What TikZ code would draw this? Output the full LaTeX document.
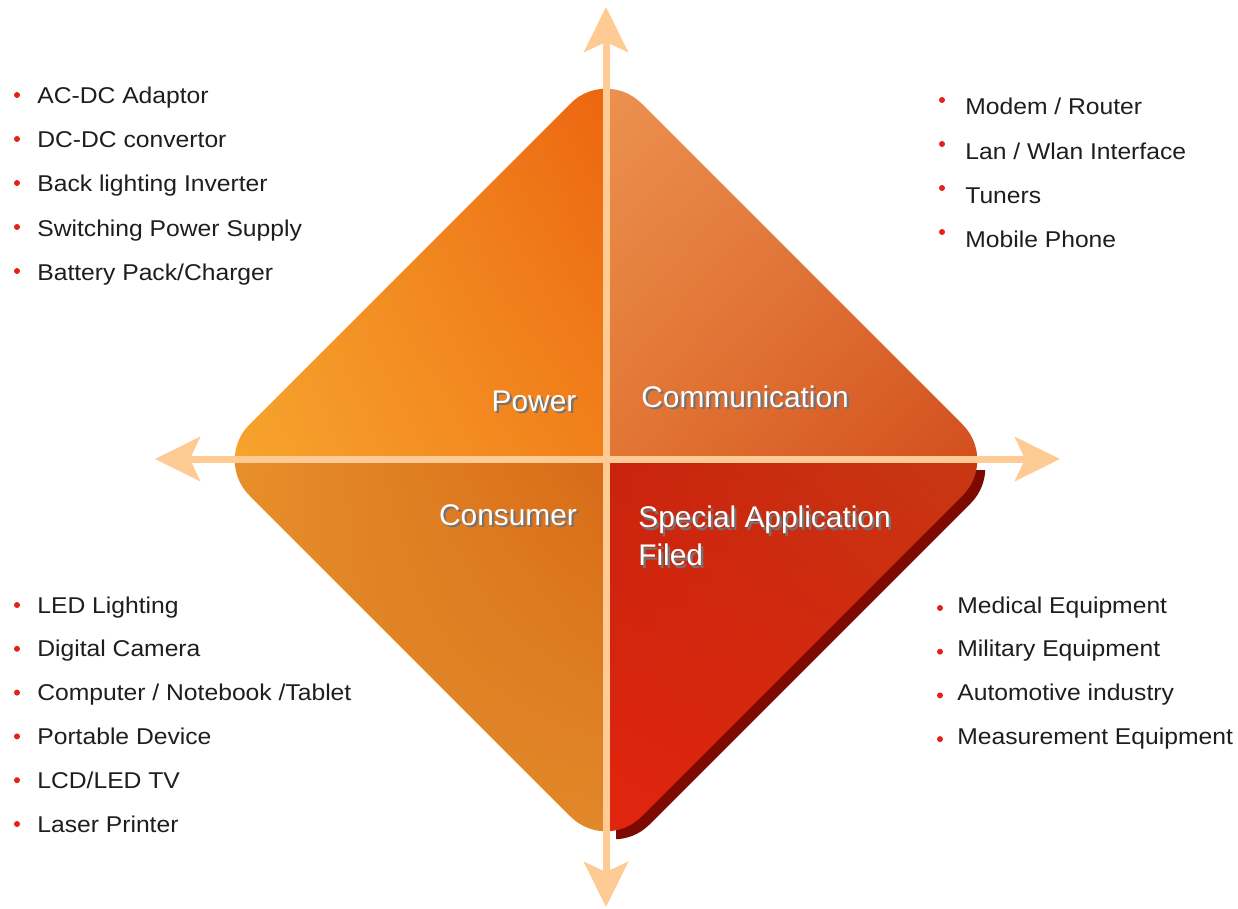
\documentclass[tikz,border=0pt]{standalone}
\usepackage{fontspec}
\setmainfont{Liberation Sans}
\newfontfamily\listfont[FakeStretch=1.08]{Liberation Sans}
\usetikzlibrary{arrows.meta,shadings}
\definecolor{axiscolor}{HTML}{FFCB94}
\definecolor{bulletred}{HTML}{E32119}
\definecolor{shadowred}{HTML}{7C0A02}
\definecolor{itemblack}{HTML}{1E1E1E}
%% quadrant colours
\definecolor{powUL}{HTML}{F29A28}\definecolor{powUR}{HTML}{EC6410}
\definecolor{powLL}{HTML}{F7A52E}\definecolor{powLR}{HTML}{F1801A}
\definecolor{comUL}{HTML}{EC9250}\definecolor{comUR}{HTML}{E07A3A}
\definecolor{comLL}{HTML}{E27634}\definecolor{comLR}{HTML}{D24C1C}
\definecolor{conUL}{HTML}{E8922C}\definecolor{conUR}{HTML}{D76A17}
\definecolor{conLL}{HTML}{E28626}\definecolor{conLR}{HTML}{E28A2A}
\definecolor{speUL}{HTML}{C9230E}\definecolor{speUR}{HTML}{C73A12}
\definecolor{speLL}{HTML}{E3260E}\definecolor{speLR}{HTML}{D41E0C}
\newcommand\quadtext[1]{\makebox[0pt][l]{\hspace{1.3pt}\raisebox{-1.3pt}[0pt][0pt]{\color{black!55}#1}}#1}
\def\diamondpath{(410,264) -- (606,68) -- (998,460) -- (606,852) -- (214,460) -- cycle}
\begin{document}
\begin{tikzpicture}
[x=0.02cm,y=-0.02cm,
  itemdecorate/.style={anchor=base west,inner sep=0pt,text=itemblack,font=\listfont\fontsize{13}{15}\selectfont},
  bulletdecorate/.style={shape=circle,fill=bulletred,inner sep=0pt,minimum size=0.12cm},
  labeldecorate/.style={inner sep=0pt,text=white,font=\fontsize{17}{21.5}\selectfont},
  axisdecorate/.style={axiscolor,line width=0.14cm,{Stealth[length=0.9cm,width=0.88cm,inset=0.2cm]}-{Stealth[length=0.9cm,width=0.88cm,inset=0.2cm]}}]
\path[fill=white,use as bounding box] (0,0) rectangle (1238,909);
%% shadow under the special quadrant
\begin{scope}[shift={(8,8)}]
  \clip[rounded corners=1cm] \diamondpath;
  \fill[shadowred] (608,462) rectangle (1000,860);
\end{scope}
%% the four quadrants
\begin{scope}
  \clip[rounded corners=1cm] \diamondpath;
  \shade[upper left=powUL,upper right=powUR,lower left=powLL,lower right=powLR]
    (214,68) rectangle (605,459);
  \shade[upper left=comUL,upper right=comUR,lower left=comLL,lower right=comLR]
    (607,68) rectangle (1000,459);
  \shade[upper left=conUL,upper right=conUR,lower left=conLL,lower right=conLR]
    (214,461) rectangle (605,852);
  \shade[upper left=speUL,upper right=speUR,lower left=speLL,lower right=speLR]
    (607,461) rectangle (1000,852);
\end{scope}
%% axes
\coordinate (axistop) at (606,7);
\coordinate (axisbottom) at (606,907);
\coordinate (axisleft) at (155,459);
\coordinate (axisright) at (1060,459);
\draw[axisdecorate] (axisbottom) -- (axistop);
\draw[axisdecorate] (axisleft) -- (axisright);
%% quadrant labels
\node[labeldecorate,anchor=base] (power) at (534,411) {\quadtext{Power}};
\node[labeldecorate,anchor=base west] (communication) at (641,407) {\quadtext{Communication}};
\node[labeldecorate,anchor=base] (consumer) at (508,525) {\quadtext{Consumer}};
\node[labeldecorate,anchor=north west,align=left] (special) at (638,506)
  {\quadtext{Special Application}\\\quadtext{Filed}};
%% lists
\foreach \itemtext [count=\i] in {AC-DC Adaptor, DC-DC convertor,
  Back lighting Inverter, Switching Power Supply, Battery Pack/Charger} {
  \node[bulletdecorate] (power-b\i) at (17,{95+44*(\i-1)}) {};
  \node[itemdecorate] (power-\i) at (37,{104+44*(\i-1)}) {\itemtext};
}
\foreach \itemtext [count=\i] in {Modem / Router, Lan / Wlan Interface,
  Tuners, Mobile Phone} {
  \node[bulletdecorate] (comm-b\i) at (942,{100+44*(\i-1)}) {};
  \node[itemdecorate] (comm-\i) at (965,{115+44*(\i-1)}) {\itemtext};
}
\foreach \itemtext [count=\i] in {LED Lighting, Digital Camera,
  Computer / Notebook /Tablet, Portable Device, LCD/LED TV, Laser Printer} {
  \node[bulletdecorate] (cons-b\i) at (17,{605+43.8*(\i-1)}) {};
  \node[itemdecorate] (cons-\i) at (37,{613+43.8*(\i-1)}) {\itemtext};
}
\foreach \itemtext [count=\i] in {Medical Equipment, Military Equipment,
  Automotive industry, Measurement Equipment} {
  \node[bulletdecorate] (spec-b\i) at (940,{608+43.7*(\i-1)}) {};
  \node[itemdecorate] (spec-\i) at (957,{613+43.7*(\i-1)}) {\itemtext};
}
\end{tikzpicture}
\end{document}
